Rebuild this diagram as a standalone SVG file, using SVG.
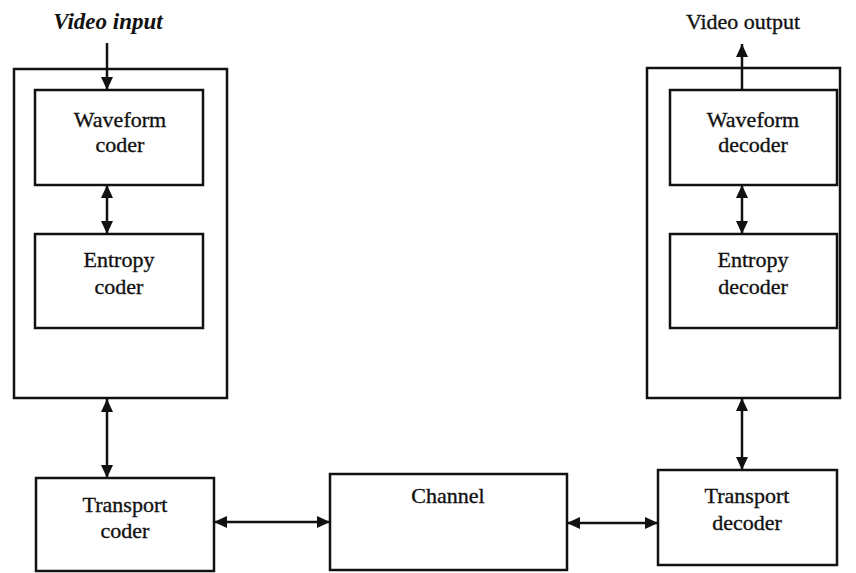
<svg xmlns="http://www.w3.org/2000/svg" width="856" height="573" viewBox="0 0 856 573">
<style>
.box{fill:none;stroke:#111;stroke-width:2.5}
.con{fill:none;stroke:#111;stroke-width:2.5;marker-end:url(#ah)}
.dbl{marker-start:url(#ah)}
text{font-family:"Liberation Serif","Times New Roman",serif;font-size:22px;fill:#111;stroke:#111;stroke-width:0.35;text-anchor:middle}
.it{font-style:italic;font-weight:bold;font-size:23px;stroke-width:0}
</style>
<defs>
<marker id="ah" markerUnits="userSpaceOnUse" markerWidth="13" markerHeight="12" refX="13" refY="6" orient="auto-start-reverse">
<path d="M0,0 L13,6 L0,12 z" fill="#111"/>
</marker>
</defs>
<rect width="856" height="573" fill="#fff"/>
<g id="encoder">
<rect class="box" x="14" y="69" width="213" height="329"/>
</g>
<g id="decoder">
<rect class="box" x="647" y="68" width="193" height="330"/>
</g>
<g id="waveform-coder">
<rect class="box" x="35" y="90" width="168" height="95"/>
<text x="120" y="127">Waveform</text>
<text x="120" y="152">coder</text>
</g>
<g id="entropy-coder">
<rect class="box" x="35" y="234" width="168" height="94"/>
<text x="119" y="267">Entropy</text>
<text x="119" y="294">coder</text>
</g>
<g id="waveform-decoder">
<rect class="box" x="670" y="90" width="167" height="95"/>
<text x="753" y="127">Waveform</text>
<text x="753" y="152">decoder</text>
</g>
<g id="entropy-decoder">
<rect class="box" x="670" y="234" width="167" height="94"/>
<text x="753" y="267">Entropy</text>
<text x="753" y="294">decoder</text>
</g>
<g id="transport-coder">
<rect class="box" x="36" y="478" width="178" height="93"/>
<text x="125" y="512">Transport</text>
<text x="125" y="538">coder</text>
</g>
<g id="channel">
<rect class="box" x="330" y="474" width="237" height="96"/>
<text x="448" y="503">Channel</text>
</g>
<g id="transport-decoder">
<rect class="box" x="658" y="470" width="179" height="95"/>
<text x="747" y="503">Transport</text>
<text x="747" y="530">decoder</text>
</g>
<g id="labels">
<text class="it" x="108" y="29">Video input</text>
<text x="743" y="29">Video output</text>
</g>
<g id="connectors">
<line class="con" x1="107" y1="43" x2="107" y2="90"/>
<line class="con dbl" x1="107" y1="185" x2="107" y2="234"/>
<line class="con dbl" x1="107" y1="399" x2="107" y2="478"/>
<line class="con dbl" x1="214" y1="522" x2="330" y2="522"/>
<line class="con dbl" x1="567" y1="523" x2="658" y2="523"/>
<line class="con dbl" x1="742" y1="398" x2="742" y2="470"/>
<line class="con dbl" x1="742" y1="185" x2="742" y2="234"/>
<line class="con" x1="742" y1="90" x2="742" y2="44"/>
</g>
</svg>
